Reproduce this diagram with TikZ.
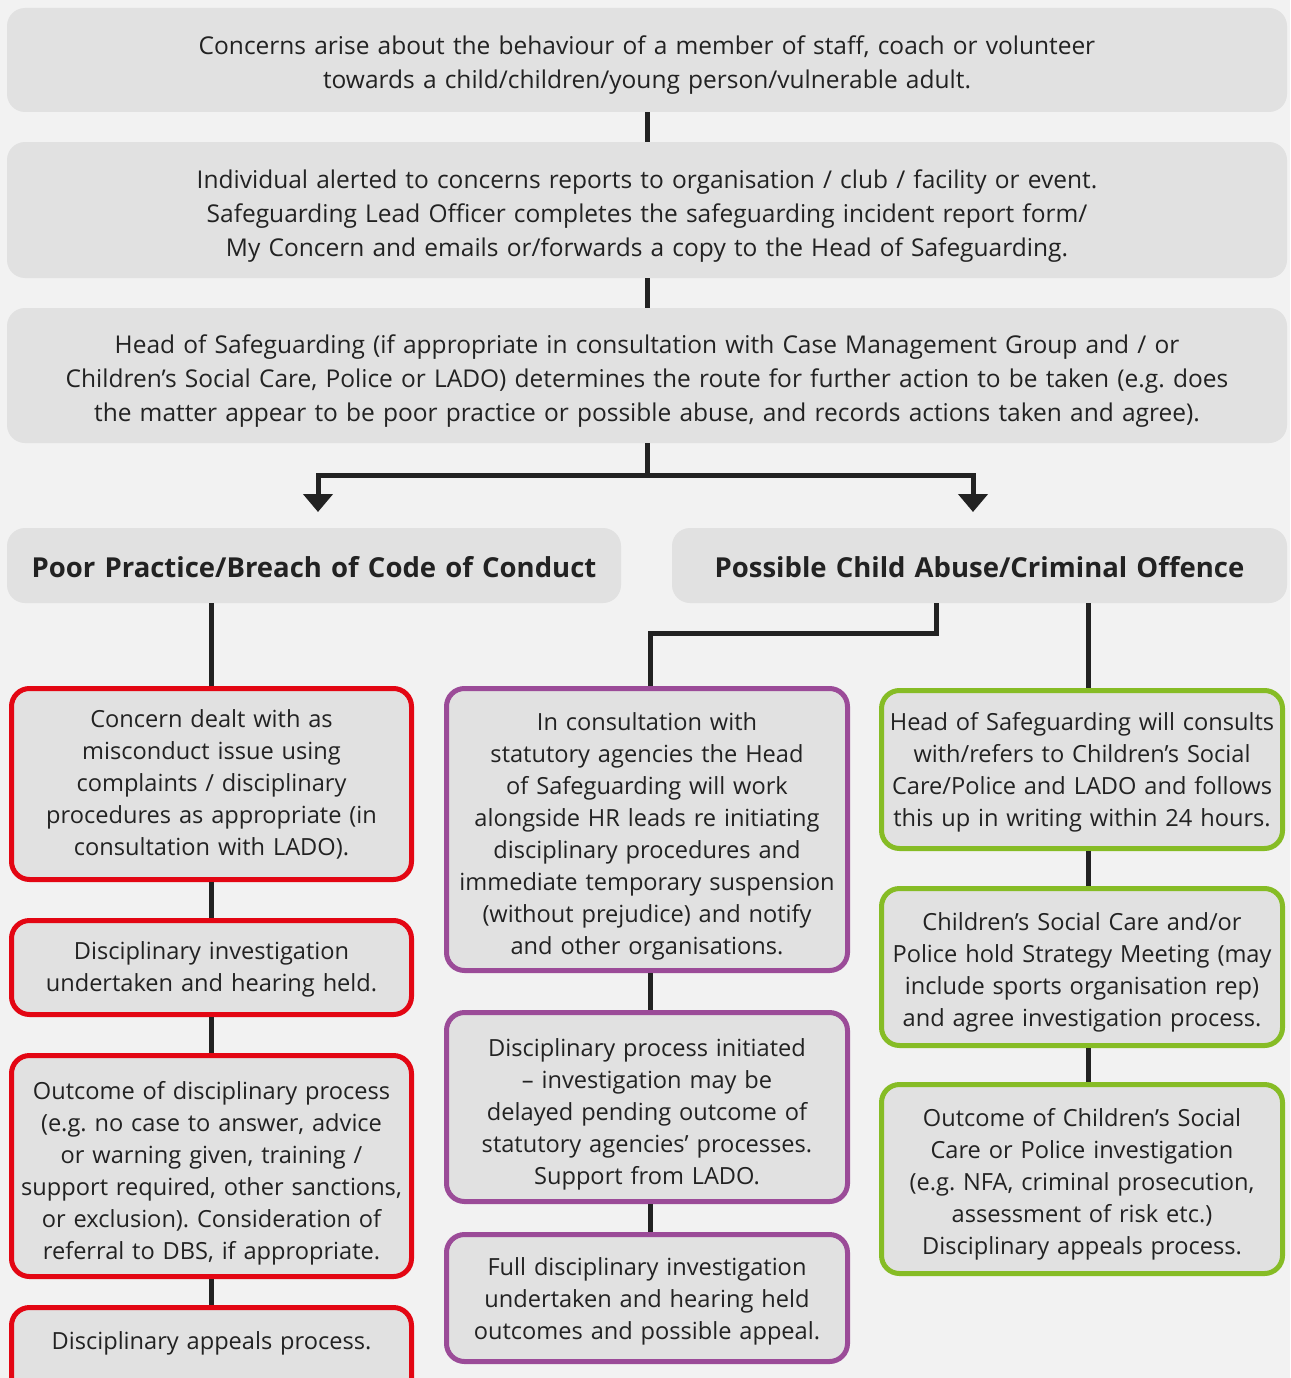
\documentclass[tikz,border=0pt]{standalone}
\usepackage{fontspec}
\setmainfont{Open Sans}
\usetikzlibrary{arrows.meta}
\definecolor{bg}{HTML}{F2F2F2}
\definecolor{boxgrey}{HTML}{E1E1E1}
\definecolor{ink}{HTML}{222222}
\definecolor{redline}{HTML}{E30613}
\definecolor{purpleline}{HTML}{9B4B98}
\definecolor{greenline}{HTML}{86BC25}
\begin{document}
\frenchspacing
\begin{tikzpicture}[x=1pt,y=-1pt,
    main/.style = {fill=boxgrey, rounded corners=18pt, align=center, text=ink, inner sep=0pt,
                   text width=1270pt, font=\fontsize{24.5}{34}\selectfont},
    head/.style = {main, text width=600pt, font=\fontsize{27.5}{34}\selectfont\bfseries},
    redbox/.style = {main, draw=redline, line width=5pt, minimum width=400pt, text width=392pt,
                     font=\fontsize{23.6}{32}\selectfont},
    purplebox/.style = {redbox, draw=purpleline, minimum width=401pt},
    greenbox/.style = {redbox, draw=greenline, minimum width=401pt},
    textdrop/.style = {execute at begin node={\rule{0pt}{\dimexpr 20pt+#1\relax}}},
    link/.style = {draw=ink, line width=5pt},
    arr/.style = {link, -{Triangle[width=29pt,length=18pt]}}]
    \fill[bg] (0,0) rectangle (1290,1378);
    \useasboundingbox (0,0) rectangle (1290,1378);
    % top of the flow
    \node[main, textdrop=9pt, minimum width=1280pt, minimum height=104pt] (1) at (647,60) {Concerns arise about the behaviour of a member of staff, coach or volunteer\\towards a child/children/young person/vulnerable adult.};
    \node[main, textdrop=11pt, minimum width=1280pt, minimum height=136pt] (2) at (647,210) {Individual alerted to concerns reports to organisation / club / facility or event.\\Safeguarding Lead Officer completes the safeguarding incident report form/\\My Concern and emails or/forwards a copy to the Head of Safeguarding.};
    \node[main, textdrop=10pt, minimum width=1280pt, minimum height=135pt] (3) at (647,375.5) {Head of Safeguarding (if appropriate in consultation with Case Management Group and / or\\Children’s Social Care, Police or LADO) determines the route for further action to be taken (e.g. does\\the matter appear to be poor practice or possible abuse, and records actions taken and agree).};
    \node[head, textdrop=4pt, minimum width=614pt, minimum height=75pt] (4) at (314,565.5) {Poor Practice/Breach of Code of Conduct};
    \node[head, textdrop=4pt, minimum width=615pt, minimum height=75pt] (5) at (979.5,565.5) {Possible Child Abuse/Criminal Offence};
    % poor practice column
    \node[redbox, minimum height=191pt] (6) at (211.5,784) {Concern dealt with as\\misconduct issue using\\complaints / disciplinary\\procedures as appropriate (in\\consultation with LADO).};
    \node[redbox, textdrop=2pt, minimum height=94pt] (7) at (211.5,967.5) {Disciplinary investigation\\undertaken and hearing held.};
    \node[redbox, textdrop=12pt, minimum height=221pt] (8) at (211.5,1166) {Outcome of disciplinary process\\(e.g. no case to answer, advice\\or warning given, training /\\support required, other sanctions,\\or exclusion). Consideration of\\referral to DBS, if appropriate.};
    \node[redbox, minimum height=105pt] (9) at (211.5,1360) {\raisebox{0pt}[0pt][0pt]{\raisebox{11pt}{Disciplinary appeals process.}}};
    % disciplinary column
    \node[purplebox, textdrop=12pt, minimum height=282pt] (10) at (647,829.5) {In consultation with\\statutory agencies the Head\\of Safeguarding will work\\alongside HR leads re initiating\\disciplinary procedures and\\immediate temporary suspension\\(without prejudice) and notify\\and other organisations.};
    \node[purplebox, textdrop=12pt, minimum height=189pt] (11) at (647,1107) {Disciplinary process initiated\\– investigation may be\\delayed pending outcome of\\statutory agencies’ processes.\\Support from LADO.};
    \node[purplebox, textdrop=4pt, minimum height=127pt] (12) at (647,1298) {Full disciplinary investigation\\undertaken and hearing held\\outcomes and possible appeal.};
    % statutory column
    \node[greenbox, textdrop=4pt, minimum height=158pt] (13) at (1082,769.5) {Head of Safeguarding will consults\\with/refers to Children’s Social\\Care/Police and LADO and follows\\this up in writing within 24 hours.};
    \node[greenbox, textdrop=8pt, minimum height=157pt] (14) at (1082,967) {Children’s Social Care and/or\\Police hold Strategy Meeting (may\\include sports organisation rep)\\and agree investigation process.};
    \node[greenbox, textdrop=8pt, minimum height=189pt] (15) at (1082,1179) {Outcome of Children’s Social\\Care or Police investigation\\(e.g. NFA, criminal prosecution,\\assessment of risk etc.)\\Disciplinary appeals process.};
    \coordinate (s) at (647,475);
    \coordinate (a1) at (318,512);
    \coordinate (a2) at (973,512);
    \draw[link] (1) -- (2);
    \draw[link] (2) -- (3);
    \draw[link] (3) -- (s);
    \draw[arr] (s) -| (a1);
    \draw[arr] (s) -| (a2);
    \draw[link] (4.south -| 6.north) -- (6.north);
    \draw[link] (6) -- (7);
    \draw[link] (7) -- (8);
    \draw[link] (8) -- (9);
    \draw[link] ([xshift=-43.5pt]5.south) -- ++(0,30) -| ([xshift=3pt]10.north);
    \draw[link] ([xshift=3pt]10.south) -- ([xshift=3pt]11.north);
    \draw[link] ([xshift=3pt]11.south) -- ([xshift=3pt]12.north);
    \draw[link] ([xshift=108.5pt]5.south) -- ([xshift=6pt]13.north);
    \draw[link] ([xshift=6pt]13.south) -- ([xshift=6pt]14.north);
    \draw[link] ([xshift=6pt]14.south) -- ([xshift=6pt]15.north);
\end{tikzpicture}
\end{document}
